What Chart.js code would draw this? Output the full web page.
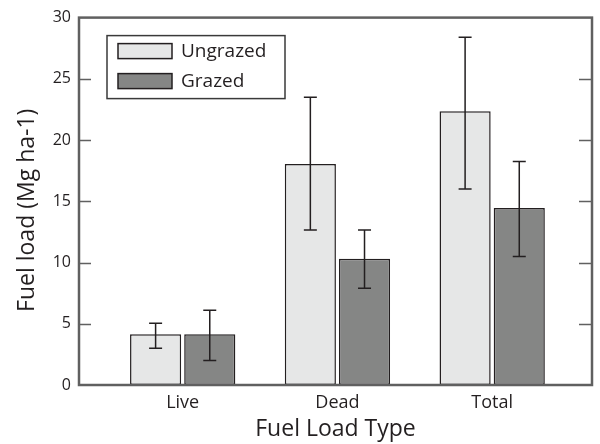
<!DOCTYPE html>
<html>
<head>
<meta charset="utf-8">
<script src="https://cdn.jsdelivr.net/npm/chart.js@4.4.1/dist/chart.umd.min.js"></script>
<style>
  html, body { margin: 0; padding: 0; background: #ffffff; }
  #wrap { width: 600px; height: 444px; }
</style>
</head>
<body>
<div id="wrap"><canvas id="fuelChart" width="600" height="444"></canvas></div>
<script>
// Data
const categories = ["Live", "Dead", "Total"];
const seriesNames = ["Ungrazed", "Grazed"];
const ungrazed = [4.15, 18.05, 22.35];
const grazed = [4.15, 10.3, 14.45];
const ungrazedLow = [3.0, 12.65, 16.0];
const ungrazedHigh = [5.05, 23.5, 28.4];
const grazedLow = [2.0, 7.9, 10.5];
const grazedHigh = [6.1, 12.65, 18.25];
const yTicks = [0, 5, 10, 15, 20, 25, 30];
const yTitle = "Fuel load (Mg ha-1)";

const fontFamily = "'Open Sans', 'DejaVu Sans', sans-serif";
const inkColor = "#231f20";
const frameColor = "#606060";

const toPoints = (values) => values.map((v, i) => ({ x: i, y: v }));

// Error bars drawn with the chart scales
const errorBarsPlugin = {
  id: 'errorBars',
  afterDatasetsDraw(chart) {
    const ctx = chart.ctx;
    const yScale = chart.scales.y;
    chart.data.datasets.forEach(function(dataset, d) {
      const meta = chart.getDatasetMeta(d);
      meta.data.forEach(function(bar, i) {
        const top = yScale.getPixelForValue(dataset.errHigh[i]);
        const bottom = yScale.getPixelForValue(dataset.errLow[i]);
        ctx.save();
        ctx.strokeStyle = inkColor;
        ctx.lineWidth = 1.5;
        ctx.beginPath();
        ctx.moveTo(bar.x, top);
        ctx.lineTo(bar.x, bottom);
        ctx.moveTo(bar.x - 6.5, top);
        ctx.lineTo(bar.x + 6.5, top);
        ctx.moveTo(bar.x - 6.5, bottom);
        ctx.lineTo(bar.x + 6.5, bottom);
        ctx.stroke();
        ctx.restore();
      });
    });
  }
};

// Box frame with inward ticks on both sides, plus the y title
const framePlugin = {
  id: 'frame',
  afterDraw(chart) {
    const ctx = chart.ctx;
    const area = chart.chartArea;
    const yScale = chart.scales.y;
    ctx.save();
    ctx.strokeStyle = frameColor;
    ctx.lineWidth = 1.5;
    ctx.beginPath();
    yTicks.forEach(function(t) {
      if (t === 0 || t === 30) return;
      const py = Math.round(yScale.getPixelForValue(t)) + 0.5;
      ctx.moveTo(area.left, py);
      ctx.lineTo(area.left + 12, py);
      ctx.moveTo(area.right, py);
      ctx.lineTo(area.right - 13, py);
    });
    ctx.stroke();
    ctx.lineWidth = 2.5;
    ctx.strokeRect(area.left, area.top, area.right - area.left, area.bottom - area.top);

    // y title sits a bit below the middle of the plot in the original
    ctx.translate(27, (area.top + area.bottom) / 2 + 9);
    ctx.rotate(-Math.PI / 2);
    ctx.fillStyle = inkColor;
    ctx.font = "23px " + fontFamily;
    ctx.textAlign = "center";
    ctx.textBaseline = "middle";
    ctx.fillText(yTitle, 0, 0);
    ctx.restore();
  }
};

// Boxed legend inside the plot
const boxLegendPlugin = {
  id: 'boxLegend',
  afterDraw(chart) {
    const ctx = chart.ctx;
    const area = chart.chartArea;
    const x0 = area.left + 28;
    const y0 = area.top + 18;
    ctx.save();
    ctx.strokeStyle = "#3a3a3a";
    ctx.lineWidth = 1.5;
    ctx.strokeRect(x0, y0, 178, 63);
    chart.data.datasets.forEach(function(dataset, d) {
      const sy = y0 + 8 + d * 30;
      ctx.fillStyle = dataset.backgroundColor;
      ctx.fillRect(x0 + 11, sy, 54, 15);
      ctx.strokeStyle = inkColor;
      ctx.lineWidth = 1.5;
      ctx.strokeRect(x0 + 11, sy, 54, 15);
      ctx.fillStyle = inkColor;
      ctx.font = "19px " + fontFamily;
      ctx.textBaseline = "middle";
      ctx.fillText(dataset.label, x0 + 74, sy + 8);
    });
    ctx.restore();
  }
};

const ctx = document.querySelector('#fuelChart').getContext('2d');
const fuelChart = new Chart(ctx, {
  type: 'bar',
  data: {
    datasets: [{
      label: seriesNames[0],
      data: toPoints(ungrazed),
      errLow: ungrazedLow,
      errHigh: ungrazedHigh,
      backgroundColor: "#e6e7e7",
      borderColor: inkColor,
      borderWidth: 1.5,
      borderSkipped: false,
      categoryPercentage: 0.7,
      barPercentage: 0.944
    }, {
      label: seriesNames[1],
      data: toPoints(grazed),
      errLow: grazedLow,
      errHigh: grazedHigh,
      backgroundColor: "#858685",
      borderColor: inkColor,
      borderWidth: 1.5,
      borderSkipped: false,
      categoryPercentage: 0.7,
      barPercentage: 0.944
    }]
  },
  options: {
    responsive: false,
    animation: false,
    layout: { padding: { left: 8, right: 8, top: 13, bottom: 1 } },
    plugins: {
      legend: { display: false },
      tooltip: { enabled: false }
    },
    scales: {
      x: {
        type: 'linear',
        offset: false,
        min: -0.67,
        max: 2.645,
        afterBuildTicks(scale) {
          scale.ticks = categories.map((c, i) => ({ value: i }));
        },
        afterFit(scale) { scale.height = 58; },
        grid: { display: false, drawTicks: false },
        border: { display: false },
        ticks: {
          padding: 7,
          color: inkColor,
          font: { family: fontFamily, size: 18 },
          callback: (value) => categories[value]
        },
        title: {
          display: true,
          text: "Fuel Load Type",
          color: inkColor,
          padding: { top: 0, bottom: 0 },
          font: { family: fontFamily, size: 23 }
        }
      },
      y: {
        min: 0,
        max: 30,
        afterBuildTicks(scale) {
          scale.ticks = yTicks.map((v) => ({ value: v }));
        },
        afterFit(scale) { scale.width = 71; },
        grid: { display: false, drawTicks: false },
        border: { display: false },
        ticks: {
          padding: 8,
          color: inkColor,
          font: { family: fontFamily, size: 16 }
        }
      }
    }
  },
  plugins: [errorBarsPlugin, framePlugin, boxLegendPlugin]
});
</script>
</body>
</html>
